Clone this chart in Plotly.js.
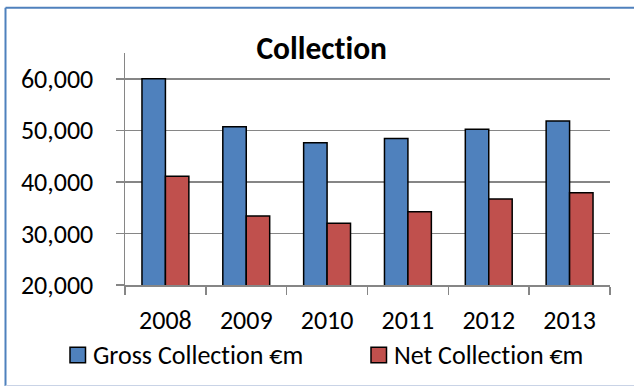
<!DOCTYPE html>
<html>
<head>
<meta charset="utf-8">
<script src="https://cdn.plot.ly/plotly-3.0.1.min.js"></script>
<style>
  html, body { margin: 0; padding: 0; background: #ffffff; }
  #chart { width: 634px; height: 386px; }
  #chart text { font-variant-ligatures: none; font-feature-settings: "liga" 0, "clig" 0; }
</style>
</head>
<body>
<div id="chart"></div>
<script>
// Yearly tax collection, in € millions
const years = ['2008', '2009', '2010', '2011', '2012', '2013'];
const grossCollection = [60000, 50700, 47600, 48400, 50200, 51800];
const netCollection = [41100, 33400, 32000, 34200, 36700, 37900];
const seriesNames = ['Gross Collection €m', 'Net Collection €m'];
const seriesColors = ['#4F81BD', '#C0504D'];
const chartTitle = 'Collection';

const FONT = 'Carlito, Calibri, Lato, sans-serif';
const GRID = '#868686';
const TXT = 26;

// plot area in pixels (used to place the frame and the legend in paper units)
const PL = 125, PR = 610, PT = 53, PB = 285;
const px = x => (x - PL) / (PR - PL);
const py = y => (PB - y) / (PB - PT);

const traces = [grossCollection, netCollection].map((vals, i) => ({
  type: 'bar',
  name: seriesNames[i],
  x: years,
  y: vals,
  marker: { color: seriesColors[i], line: { color: '#000000', width: 1.5 } },
  hoverinfo: 'x+y+name'
}));

// legend: outlined swatch + series name for each trace
const legendSpots = [{ box: 70, text: 91 }, { box: 371, text: 392 }];
const legendY = 355;
const legendShapes = legendSpots.map((s, i) => ({
  type: 'rect', xref: 'paper', yref: 'paper',
  x0: px(s.box), x1: px(s.box + 15.5),
  y0: py(legendY - 7.75), y1: py(legendY + 7.75),
  fillcolor: seriesColors[i],
  line: { color: '#000000', width: 1.5 }
}));
const legendLabels = legendSpots.map((s, i) => ({
  xref: 'paper', yref: 'paper',
  x: px(s.text), y: py(legendY),
  xanchor: 'left', yanchor: 'middle',
  text: seriesNames[i],
  showarrow: false,
  font: { family: FONT, size: TXT, color: '#000000' }
}));

const layout = {
  width: 634,
  height: 386,
  margin: { l: PL, r: 634 - PR, t: PT, b: 386 - PB, pad: 0 },
  paper_bgcolor: '#ffffff',
  plot_bgcolor: '#ffffff',
  font: { family: FONT, size: TXT, color: '#000000' },
  title: {
    text: '<b>' + chartTitle + '</b>',
    font: { family: FONT, size: 31.5, color: '#000000' },
    x: 321.7 / 634, xref: 'container', xanchor: 'center',
    y: 1 - 48 / 386, yref: 'container', yanchor: 'middle',
    automargin: false
  },
  barmode: 'group',
  bargap: 0.42,
  bargroupgap: 0,
  showlegend: false,
  xaxis: {
    type: 'category',
    automargin: false,
    showgrid: false,
    showline: true,
    linecolor: GRID,
    linewidth: 1.5,
    ticks: 'outside',
    tickson: 'boundaries',
    ticklen: 8,
    tickwidth: 1.5,
    tickcolor: GRID,
    ticklabelstandoff: 11,
    tickfont: { family: FONT, size: TXT, color: '#000000' },
    zeroline: false
  },
  yaxis: {
    automargin: false,
    range: [20000, 65000],
    tick0: 20000,
    dtick: 10000,
    tickformat: ',',
    showgrid: true,
    gridcolor: GRID,
    gridwidth: 1.5,
    showline: true,
    linecolor: GRID,
    linewidth: 1.5,
    ticks: 'outside',
    ticklen: 8,
    tickwidth: 1.5,
    tickcolor: GRID,
    ticklabelstandoff: 17,
    tickfont: { family: FONT, size: TXT, color: '#000000' },
    zeroline: false
  },
  annotations: legendLabels,
  shapes: [
    // chart frame: top and left edges, faint bottom edge
    { type: 'line', xref: 'paper', yref: 'paper',
      x0: px(5.5), x1: px(640), y0: py(7.7), y1: py(7.7),
      line: { color: '#4F81BD', width: 2 } },
    { type: 'line', xref: 'paper', yref: 'paper',
      x0: px(5.5), x1: px(5.5), y0: py(7.7), y1: py(390),
      line: { color: '#4F81BD', width: 2 } },
    { type: 'line', xref: 'paper', yref: 'paper',
      x0: px(5.5), x1: px(640), y0: py(385.5), y1: py(385.5),
      line: { color: '#C9D3E6', width: 1 } }
  ].concat(legendShapes)
};

Plotly.newPlot('chart', traces, layout, { staticPlot: true, displayModeBar: false });
</script>
</body>
</html>
